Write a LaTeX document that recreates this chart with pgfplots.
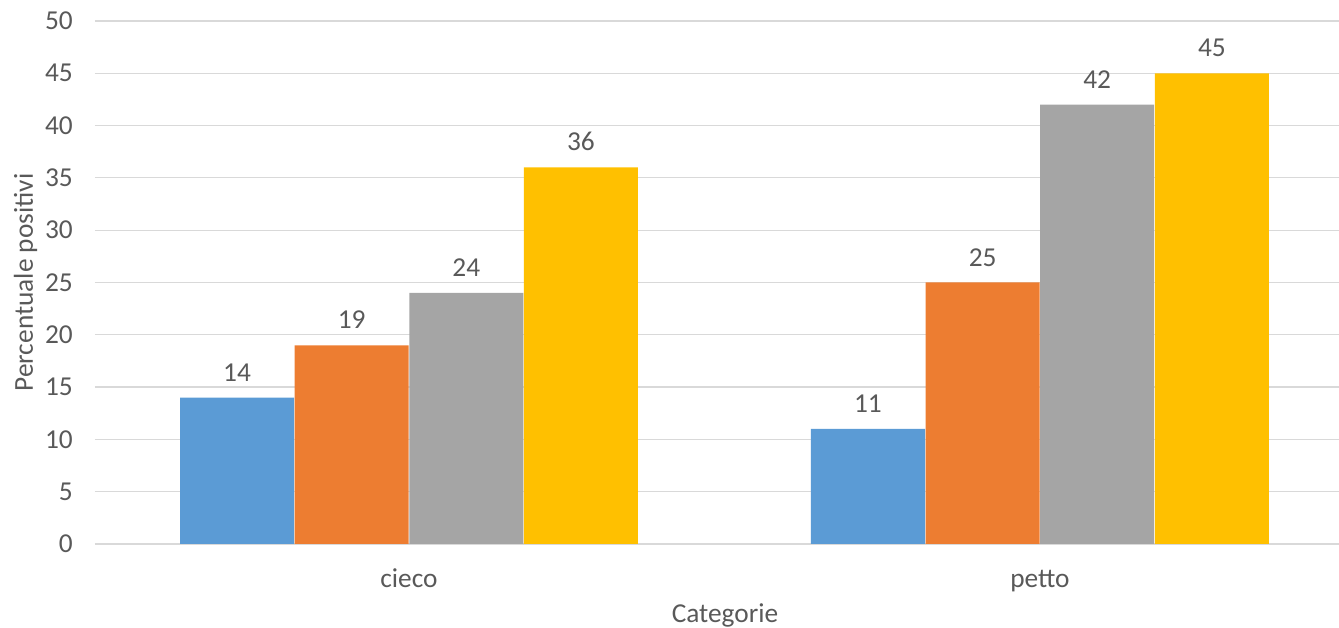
\documentclass[border=0pt]{standalone}
\usepackage{pgfplots}
\pgfplotsset{compat=1.18}
\usepackage{fontspec}
\setmainfont{Carlito}
\definecolor{cblue}{HTML}{5B9BD5}
\definecolor{corange}{HTML}{ED7D31}
\definecolor{cgray}{HTML}{A5A5A5}
\definecolor{cgold}{HTML}{FFC000}
\definecolor{txt}{HTML}{595959}
\definecolor{gridc}{HTML}{D9D9D9}
\newcommand{\cf}{\fontsize{20.5}{24}\selectfont}
\begin{document}
\begin{tikzpicture}[x=0.75pt,y=0.75pt,font=\cf]
\begin{axis}[
  at={(0pt,0pt)}, anchor=south west, scale only axis,
  width=933pt, height=392.25pt,
  xmin=-0.4976, xmax=1.474, ymin=0, ymax=50,
  ytick={0,5,...,50}, xtick={0,1}, xticklabels={cieco,petto},
  axis line style={draw=none},
  major tick length=0pt,
  ymajorgrids, major grid style={draw=gridc, line width=0.9pt},
  /pgf/number format/assume math mode=true,
  ticklabel style={font=\cf, text=txt},
  yticklabel style={anchor=east, inner sep=0pt, xshift=-16.5pt},
  xticklabel style={anchor=base, inner sep=0pt, yshift=-33pt},
  ybar, bar width=0.1807,
  nodes near coords,
  nodes near coords style={font=\cf, text=txt, anchor=south, inner sep=0pt, yshift=12pt},
  clip=false,
]
\addplot[fill=cblue, draw=none, bar shift=-0.2725] coordinates {(0,14) (1,11)};
\addplot[fill=corange, draw=none, bar shift=-0.0908] coordinates {(0,19) (1,25)};
\addplot[fill=cgray, draw=none, bar shift=0.0908] coordinates {(0,24) (1,42)};
\addplot[fill=cgold, draw=none, bar shift=0.2725] coordinates {(0,36) (1,45)};
\end{axis}
\node[text=txt, anchor=base] at (630,-79) {Categorie};
\node[text=txt, rotate=90, anchor=base] at (-62,261.5) {Percentuale positivi};
\pgfresetboundingbox
\useasboundingbox (-95,-84) rectangle (1244,544);
\end{tikzpicture}
\end{document}
